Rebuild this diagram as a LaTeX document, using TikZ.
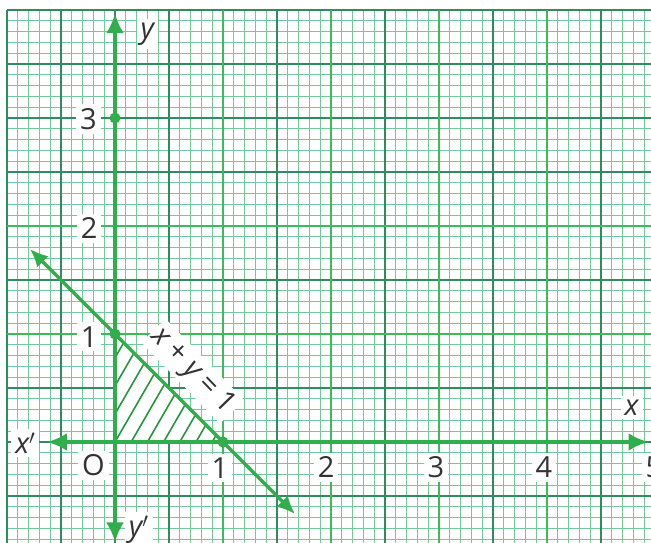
\documentclass[tikz,border=0pt]{standalone}
\usepackage{fontspec}
\setmainfont{Open Sans}
\usetikzlibrary{arrows.meta}
\definecolor{finegrid}{HTML}{74C99C}
\definecolor{midgrid}{HTML}{2F8C5F}
\definecolor{majgrid}{HTML}{3DBA5C}
\definecolor{axisgreen}{HTML}{2FAE4B}
\definecolor{inkgray}{HTML}{333333}
\begin{document}
\begin{tikzpicture}[x=108pt,y=108pt,
  fine/.style={finegrid, line width=0.9pt},
  midline/.style={midgrid, line width=1.1pt},
  major/.style={majgrid, line width=2.2pt},
  axisline/.style={axisgreen, line width=4.5pt,
    {Latex[length=20pt,width=18pt]}-{Latex[length=20pt,width=18pt]}},
  graphline/.style={axisgreen, line width=3.4pt,
    {Latex[length=18pt,width=16pt]}-{Latex[length=18pt,width=16pt]}},
  hatchline/.style={axisgreen!85!black, line width=1.6pt},
  dot/.style={circle, fill=axisgreen, inner sep=0pt, minimum size=11pt},
  lbl/.style={fill=white, inner sep=4pt, text=inkgray, font=\fontsize{29}{32}\selectfont},
]
\useasboundingbox (-1.0648,-0.935) rectangle (4.963,4.0926);
\clip (-1.0648,-0.935) rectangle (4.963,4.0926);
\fill[white] (-1.0648,-0.935) rectangle (4.963,4.0926);
% grid
\foreach \i in {-10,...,49} { \draw[fine] (\i/10,-0.95) -- (\i/10,4.0); }
\foreach \j in {-9,...,40} { \draw[fine] (-1,\j/10) -- (4.97,\j/10); }
\foreach \i in {-2,...,9} { \draw[midline] (\i/2,-0.95) -- (\i/2,4.0); }
\foreach \j in {-1,...,8} { \draw[midline] (-1,\j/2) -- (4.97,\j/2); }
\foreach \i in {1,...,4} { \draw[major] (\i,-0.95) -- (\i,4.0); }
\foreach \j in {1,2} { \draw[major] (-1,\j) -- (4.97,\j); }
% shaded region
\fill[white] (0,0) -- (1,0) -- (0,1) -- cycle;
\begin{scope}
  \clip (0,0) -- (1,0) -- (0,1) -- cycle;
  \foreach \k in {-3,...,6} { \draw[hatchline] ({0.15*\k},0) -- ++(60:1.4); }
\end{scope}
% coordinates
\coordinate (xl) at (-0.63,0);
\coordinate (xr) at (4.94,0);
\coordinate (yb) at (0,-0.93);
\coordinate (yt) at (0,3.97);
\coordinate (la) at (-0.787,1.787);
\coordinate (lb) at (1.667,-0.667);
% axes and line
\draw[axisline] (xl) -- (xr);
\draw[axisline] (yb) -- (yt);
\draw[graphline] (la) -- (lb);
% dots
\node[dot] (p3) at (0,3) {};
\node[dot] (p1) at (0,1) {};
\node[dot] (q1) at (1,0) {};
% labels
\node[lbl] (ly) at (0.30,3.78) {\itshape y};
\node[lbl] (y3) at (-0.245,2.99) {3};
\node[lbl] (y2) at (-0.24,1.98) {2};
\node[lbl] (y1) at (-0.24,0.975) {1};
\node[lbl] (o) at (-0.20,-0.215) {O};
\node[lbl] (x1) at (0.972,-0.24) {1};
\node[lbl] (x2) at (1.955,-0.235) {2};
\node[lbl] (x3) at (2.972,-0.235) {3};
\node[lbl] (x4) at (3.972,-0.235) {4};
\node[lbl] (x5) at (4.99,-0.235) {5};
\node[lbl] (lx) at (4.784,0.32) {\itshape x};
\node[lbl] (lxp) at (-0.83,-0.01) {\itshape x$'$};
\node[lbl] (lyp) at (0.22,-0.815) {\itshape y$'$};
\node[lbl, inner sep=3pt, rotate=-46] (eq) at (0.72,0.655) {\itshape x \upshape+ \itshape y \upshape= 1};
\end{tikzpicture}
\end{document}
